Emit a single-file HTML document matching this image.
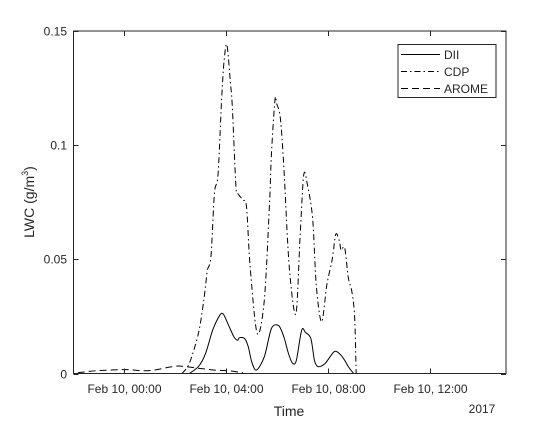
<!DOCTYPE html>
<html><head><meta charset="utf-8"><style>
html,body{margin:0;padding:0;background:#fff;}
svg text{font-family:"Liberation Sans",Arial,sans-serif;fill:#262626;}
</style></head><body>
<svg id="chart" width="560" height="420" viewBox="0 0 560 420">
<rect x="0" y="0" width="560" height="420" fill="#fff"/>
<g id="plot"></g>
<g id="axes"></g>
<text x="289" y="416" font-size="14" text-anchor="middle">Time</text>
<text x="482" y="413" font-size="12" text-anchor="middle">2017</text>
<text transform="translate(34,202) rotate(-90)" font-size="14" text-anchor="middle">LWC (g/m<tspan font-size="9" dy="-6">3</tspan><tspan dy="6">)</tspan></text>
<g>
<rect x="398" y="44.5" width="98" height="53" fill="#fff" stroke="#262626" stroke-width="1"/>
<line x1="401" y1="54.5" x2="440" y2="54.5" stroke="#000" stroke-width="1"/>
<line x1="401" y1="71.5" x2="440" y2="71.5" stroke="#000" stroke-width="1" stroke-dasharray="6,3,1.5,3"/>
<line x1="401" y1="88.5" x2="440" y2="88.5" stroke="#000" stroke-width="1" stroke-dasharray="7,4"/>
<text x="444" y="59" font-size="12">DII</text>
<text x="444" y="76" font-size="12">CDP</text>
<text x="444" y="93" font-size="12">AROME</text>
</g>
</svg>
<script>
// hours relative to Feb 10 00:00
const xTickHours=[0,4,8,12];
const xTickLabels=["Feb 10, 00:00","Feb 10, 04:00","Feb 10, 08:00","Feb 10, 12:00"];
const yTicks=[0,0.05,0.1,0.15];
const yTickLabels=["0","0.05","0.1","0.15"];
const cdpHours=[2.27,2.55,2.91,3.12,3.26,3.40,3.54,3.68,3.82,3.92,4.03,4.17,4.24,4.38,4.45,4.66,4.80,4.94,5.22,5.50,5.71,5.78,5.92,5.99,6.13,6.27,6.48,6.74,6.91,7.05,7.19,7.40,7.54,7.75,7.96,8.17,8.31,8.45,8.52,8.66,8.80,8.94,9.05,9.11];
const cdpValues=[0,0.0044,0.0175,0.032,0.045,0.051,0.079,0.087,0.120,0.137,0.144,0.127,0.117,0.083,0.079,0.076,0.073,0.047,0.0175,0.032,0.076,0.096,0.120,0.118,0.112,0.090,0.047,0.026,0.061,0.087,0.083,0.068,0.039,0.0226,0.039,0.050,0.061,0.058,0.054,0.055,0.042,0.036,0.025,0];
const diiHours=[2.55,2.91,3.19,3.47,3.75,3.89,4.10,4.31,4.45,4.52,4.73,4.87,5.01,5.19,5.50,5.78,6.06,6.27,6.45,6.62,6.76,6.97,7.12,7.33,7.47,7.61,7.89,8.24,8.45,8.66,8.80,9.01];
const diiValues=[0,0.003,0.0087,0.019,0.0255,0.026,0.021,0.016,0.0146,0.0157,0.0153,0.0117,0.005,0.0015,0.0073,0.0197,0.021,0.016,0.0087,0.0044,0.0058,0.019,0.018,0.0153,0.0058,0.003,0.0044,0.0095,0.0087,0.0058,0.003,0];
const aromeHours=[-1.83,-1.12,0.03,0.74,1.16,2.0,2.42,2.98,3.54,4.1,4.66];
const aromeValues=[0.0003,0.0012,0.0017,0.0012,0.0015,0.0032,0.003,0.0022,0.0015,0.0012,0.0003];

const X0=73.5,X1=506,Y0=373.5,Y1=31;
const xMin=-2,xMax=15,yMin=0,yMax=0.15;
function sx(h){return X0+(h-xMin)/(xMax-xMin)*(X1-X0);}
function sy(v){return Y0-(v-yMin)/(yMax-yMin)*(Y0-Y1);}
const NS="http://www.w3.org/2000/svg";
const plot=document.getElementById('plot'),axes=document.getElementById('axes');
function mk(tag,attrs,parent){const e=document.createElementNS(NS,tag);for(const k in attrs)e.setAttribute(k,attrs[k]);parent.appendChild(e);return e;}
function smoothPath(pts){
  let d='M'+pts[0][0].toFixed(1)+','+pts[0][1].toFixed(1);
  const t=0.3;
  for(let i=0;i<pts.length-1;i++){
    const p0=pts[i-1]||pts[i],p1=pts[i],p2=pts[i+1],p3=pts[i+2]||p2;
    const c1=[p1[0]+(p2[0]-p0[0])*t/2*1,p1[1]+(p2[1]-p0[1])*t/2];
    const c2=[p2[0]-(p3[0]-p1[0])*t/2,p2[1]-(p3[1]-p1[1])*t/2];
    d+='C'+c1[0].toFixed(1)+','+c1[1].toFixed(1)+' '+c2[0].toFixed(1)+','+c2[1].toFixed(1)+' '+p2[0].toFixed(1)+','+p2[1].toFixed(1);
  }
  return d;
}
function series(hs,vs,dash,name){
  const pts=hs.map((h,i)=>[sx(h),Math.min(Y0,sy(vs[i]))]);
  const p=mk('path',{d:smoothPath(pts),fill:'none',stroke:'#000','stroke-width':1,'stroke-dasharray':dash},plot);
  
  
}
series(aromeHours,aromeValues,'7,4','arome-line');
series(cdpHours,cdpValues,'6,3,1.5,3','cdp-line');
series(diiHours,diiValues,'none','dii-line');
const box=mk('rect',{x:X0,y:Y1,width:X1-X0,height:Y0-Y1,fill:'none',stroke:'#262626','stroke-width':1},axes);


xTickHours.forEach((h,i)=>{
  const x=Math.round(sx(h))+0.5;
  mk('line',{x1:x,y1:Y0,x2:x,y2:Y0-5,stroke:'#262626'},axes);
  mk('line',{x1:x,y1:Y1,x2:x,y2:Y1+5,stroke:'#262626'},axes);
  const t=mk('text',{x:x,y:393,'font-size':12,'text-anchor':'middle'},axes);
  t.textContent=xTickLabels[i];
  
  
});
yTicks.forEach((v,i)=>{
  const y=Math.round(sy(v))+0.5;
  mk('line',{x1:X0,y1:y,x2:X0+5,y2:y,stroke:'#262626'},axes);
  mk('line',{x1:X1,y1:y,x2:X1-5,y2:y,stroke:'#262626'},axes);
  const t=mk('text',{x:67,y:y+4,'font-size':12,'text-anchor':'end'},axes);
  t.textContent=yTickLabels[i];
  
  
});
</script>
</body></html>
